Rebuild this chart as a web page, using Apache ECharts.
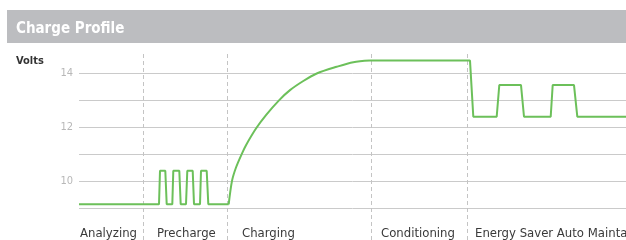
<!DOCTYPE html>
<html>
<head>
<meta charset="utf-8">
<script src="https://cdn.jsdelivr.net/npm/echarts@6/dist/echarts.min.js"></script>
<style>
html,body{margin:0;padding:0;background:#fff;}
#chart{width:626px;height:240px;}
</style>
</head>
<body>
<div id="chart"></div>
<script>
// ---- data ----
const chartTitle = 'Charge Profile';
const yName = 'Volts';
const phases = ['Analyzing', 'Precharge', 'Charging', 'Conditioning', 'Energy Saver Auto Maintain'];
const phaseLabelAt = [1, 78, 163, 302, 396];          // time where each phase label starts
const phaseBoundaries = [64.3, 148.7, 292.7, 388.3];  // dashed separators (time)
const yTickLabels = [10, 12, 14];
const yGridValues = [9, 10, 11, 12, 13, 14];

// step part: analyze + precharge pulses
const stepTime  = [0, 80, 81, 86.3, 87.7, 93.3, 94.3, 100.3, 101.7, 107, 108.3, 113.7, 115, 121, 122, 127.7, 129.3, 149.7];
const stepVolts = [9.13, 9.13, 10.38, 10.38, 9.13, 9.13, 10.38, 10.38, 9.13, 9.13, 10.38, 10.38, 9.13, 9.13, 10.38, 10.38, 9.13, 9.13];
// charging curve
const curveTime  = [149.7, 153, 157, 162.7, 167, 177, 187, 200, 211, 224.3, 237.7, 257.7, 274.3, 291];
const curveVolts = [9.13, 10.0, 10.5, 11.0, 11.33, 11.95, 12.45, 13.0, 13.38, 13.72, 14.0, 14.25, 14.42, 14.48];
// conditioning + maintain
const holdTime  = [291, 391, 394.3, 417.7, 420.3, 442, 445, 471.7, 473.7, 495, 498.3, 547];
const holdVolts = [14.48, 14.48, 12.39, 12.39, 13.57, 13.57, 12.39, 12.39, 13.57, 13.57, 12.39, 12.39];

const FONT = "'DejaVu Sans Condensed', 'Liberation Sans Narrow', sans-serif";
const GREEN = '#6cc05a';

const zip = (a, b) => a.map((v, i) => [v, b[i]]);
const stepData = zip(stepTime, stepVolts).concat([[null, null]], zip(holdTime, holdVolts));

const chart = echarts.init(document.getElementById('chart'), null, {renderer: 'canvas'});
chart.setOption({
  animation: false,
  backgroundColor: '#fff',
  graphic: [{
    type: 'rect', left: 7, top: 10, z: 0,
    shape: {width: 619, height: 33},
    style: {fill: '#bcbdc0'}
  }],
  title: [
    {text: chartTitle, left: 16, top: 22, padding: 0,
     textStyle: {color: '#fff', fontFamily: FONT, fontWeight: 'bold', fontSize: 15}},
    {text: yName, left: 16, top: 56, padding: 0,
     textStyle: {color: '#333', fontFamily: FONT, fontWeight: 'bold', fontSize: 11}}
  ],
  grid: {left: 79, right: 0, top: 52, bottom: 0, containLabel: false, outerBoundsMode: 'none'},
  xAxis: {
    type: 'value', min: 0, max: 547,
    axisLine: {show: false}, axisTick: {show: false}, splitLine: {show: false},
    axisLabel: {
      inside: true, margin: 0, align: 'left', verticalAlign: 'bottom',
      customValues: phaseLabelAt, hideOverlap: false,
      formatter: v => phases[phaseLabelAt.indexOf(v)] || '',
      color: '#3a3a3a', fontFamily: FONT, fontSize: 13
    }
  },
  yAxis: {
    type: 'value', min: 7.8, max: 14.8,
    axisLine: {show: false}, axisTick: {show: false}, splitLine: {show: false},
    axisLabel: {
      customValues: yTickLabels, margin: 6,
      color: '#b8b8b8', fontFamily: FONT, fontSize: 11
    }
  },
  series: [
    {
      name: 'Voltage', type: 'line', data: stepData, showSymbol: false, z: 3,
      connectNulls: false,
      lineStyle: {color: GREEN, width: 2},
      markLine: {
        silent: true, symbol: ['none', 'none'], label: {show: false}, z: 1,
        data: yGridValues.map(v => ({yAxis: v, lineStyle: {color: '#cacaca', width: 1, type: 'solid'}}))
          .concat(phaseBoundaries.map(v => ({xAxis: v, lineStyle: {color: '#c4c4c4', width: 1, type: [4, 3]}})))
      }
    },
    {
      name: 'Charging', type: 'line', data: zip(curveTime, curveVolts), showSymbol: false, z: 3,
      smooth: 0.3,
      lineStyle: {color: GREEN, width: 2}
    }
  ]
});
</script>
</body>
</html>
